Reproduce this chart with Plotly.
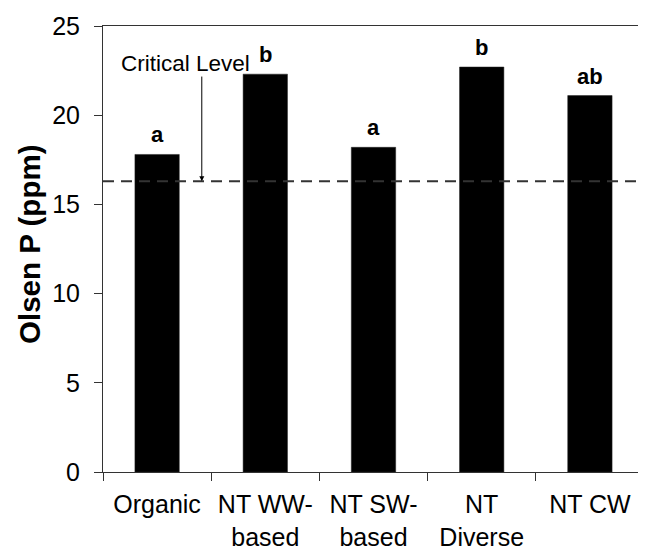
import plotly.graph_objects as go

categories = ["Organic", "NT WW-<br>based", "NT SW-<br>based", "NT<br>Diverse", "NT CW"]
olsen_p = [17.8, 22.3, 18.2, 22.7, 21.1]
letters = ["a", "b", "a", "b", "ab"]
critical_level = 16.3
y_ticks = [0, 5, 10, 15, 20, 25]

FONT = "Liberation Sans, Arial, sans-serif"

fig = go.Figure()
fig.add_trace(go.Bar(
    x=categories, y=olsen_p, width=0.41,
    marker=dict(color="black", line=dict(color="#222", width=0.5)),
    showlegend=False, hoverinfo="skip",
))

fig.add_shape(type="line", xref="paper", yref="y", x0=0, x1=1,
              y0=critical_level, y1=critical_level,
              line=dict(color="#333", width=2, dash="11px,7px"))

for c, v, t in zip(categories, olsen_p, letters):
    fig.add_annotation(x=c, y=v, text=f"<b>{t}</b>", showarrow=False,
                       yanchor="bottom", yshift=5,
                       font=dict(family=FONT, size=22, color="black"))

fig.add_annotation(x=0.26, y=22.9, xref="x", yref="y", text="Critical Level",
                   showarrow=False, font=dict(family=FONT, size=22.5, color="black"))
fig.add_annotation(x=0.413, y=critical_level, xref="x", yref="y",
                   ax=0.413, ay=22.25, axref="x", ayref="y", text="",
                   showarrow=True, arrowhead=2, arrowsize=1, arrowwidth=1,
                   arrowcolor="black")

fig.add_annotation(x=-0.137, y=0.511, xref="paper", yref="paper",
                   xanchor="center", yanchor="middle",
                   text="<b>Olsen P (ppm)</b>", textangle=-90, showarrow=False,
                   font=dict(family=FONT, size=29.5, color="black"))

# page body has an 8px margin; size figure so the plot lands where the reference has it
fig.update_layout(
    width=638, height=541,
    margin=dict(l=95, r=2, t=18, b=77, autoexpand=False),
    paper_bgcolor="white", plot_bgcolor="white",
    font=dict(family=FONT, size=25, color="black"),
)
fig.update_xaxes(
    type="category", tickson="boundaries", ticks="outside", ticklen=8,
    tickcolor="#333", showline=True, linecolor="#333", linewidth=1, mirror=True,
    showgrid=False, tickfont=dict(size=25), automargin=False, ticklabelstandoff=10,
)
fig.update_yaxes(
    range=[0, 25], tickvals=y_ticks, ticks="outside", ticklen=8,
    tickcolor="#333", showline=True, linecolor="#333", linewidth=1, mirror=True,
    showgrid=False, zeroline=False, tickfont=dict(size=25), automargin=False,
    ticklabelstandoff=9,
)

fig.write_html("out.html")
